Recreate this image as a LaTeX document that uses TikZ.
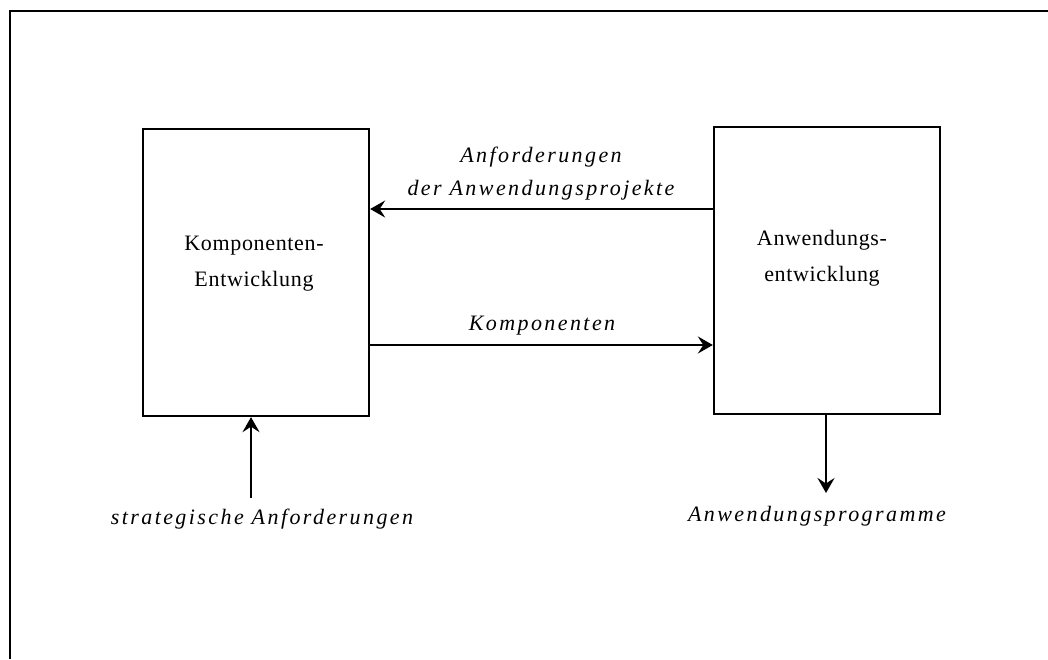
\documentclass[tikz,border=0pt]{standalone}
\usepackage{fontspec}
\setmainfont{Liberation Serif}
\usetikzlibrary{arrows.meta}
\newfontfamily\boxfont[LetterSpace=3]{Liberation Serif}
\newfontfamily\labelfont[LetterSpace=11,ItalicFont={Liberation Serif Italic}]{Liberation Serif}
\begin{document}
\begin{tikzpicture}[x=1pt,y=-1pt,
  block/.style={draw,line width=2.3pt,minimum width=226pt,minimum height=287pt,inner sep=0pt},
  flow/.style={line width=2.5pt,-{Stealth[length=15pt,width=17pt,inset=5.5pt]}},
  boxtext/.style={font=\boxfont\fontsize{22}{36}\selectfont,align=center},
  flowtext/.style={font=\labelfont\itshape\fontsize{22}{33}\selectfont,align=center}]
  \useasboundingbox (0,0) rectangle (1048,659);
  % cropped outer frame: only its top and left edges are present
  \draw[line width=2.3pt] (10,659) -- (10,11) -- (1048,11);

  \node[block] (komp) at (256,272.5) {};
  \node[block] (anw) at (827,270.5) {};

  \node[boxtext] (kt) at (254,264) {Komponenten-\\Entwicklung};
  \node[boxtext] (at) at (822,258) {Anwendungs-\\entwicklung};

  \coordinate (reqA) at (anw.west |- 0,209);
  \coordinate (reqK) at (komp.east |- 0,209);
  \draw[flow] (reqA) -- (reqK);
  \node[flowtext] (reqlbl) at (541,174) {Anforderungen\\der Anwendungsprojekte};

  \coordinate (kompK) at (komp.east |- 0,345);
  \coordinate (kompA) at (anw.west |- 0,345);
  \draw[flow] (kompK) -- (kompA);
  \node[flowtext] (kompLbl) at (542,326) {Komponenten};

  \node[flowtext] (strat) at (262,519) {strategische Anforderungen};
  \coordinate (stratTop) at (251,498);
  \draw[flow] (stratTop) -- (komp.south -| stratTop);

  \node[flowtext] (prog) at (817,516) {Anwendungsprogramme};
  \coordinate (progEnd) at (826,493);
  \draw[flow] (anw.south -| progEnd) -- (progEnd);
\end{tikzpicture}
\end{document}
